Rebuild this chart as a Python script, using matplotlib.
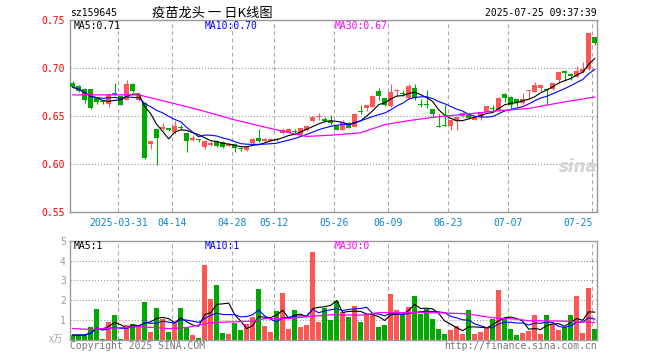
import numpy as np
import pandas as pd
import matplotlib
matplotlib.use("Agg")
import matplotlib.pyplot as plt

W, H, DPI = 660, 360, 100
MONO = "DejaVu Sans Mono"
CJK = ["Noto Sans CJK SC", "DejaVu Sans"]

UP, DOWN = "#ff5555", "#00a800"
GRID = "#aaaaaa"

# ---- data (159645, daily, 2025-03-19 .. 2025-07-25) ----
holidays = ["2025-04-04", "2025-05-01", "2025-05-02", "2025-05-05", "2025-06-02"]
days = pd.bdate_range("2025-03-19", "2025-07-25")
days = days[~days.isin(pd.to_datetime(holidays))]

opens = [0.684, 0.681, 0.678, 0.678, 0.669, 0.665, 0.662, 0.674, 0.671, 0.667,
         0.683, 0.667, 0.664, 0.621, 0.636, 0.636, 0.637, 0.633, 0.639, 0.632,
         0.6255, 0.625, 0.618, 0.620, 0.624, 0.623, 0.619, 0.621, 0.616, 0.6145,
         0.622, 0.6275, 0.6236, 0.624, 0.6252, 0.632, 0.6325, 0.634, 0.630, 0.635,
         0.6453, 0.6493, 0.647, 0.6446, 0.6396, 0.6358, 0.643, 0.639, 0.655, 0.6585,
         0.6595, 0.6765, 0.6685, 0.660, 0.676, 0.6743, 0.6685, 0.679, 0.6623, 0.6616,
         0.6569, 0.6394, 0.640, 0.6401, 0.6443, 0.6497, 0.6511, 0.6463, 0.6487, 0.6545,
         0.6581, 0.6566, 0.6726, 0.6702, 0.6675, 0.6634, 0.6758, 0.675, 0.6795, 0.678,
         0.6785, 0.688, 0.6973, 0.6942, 0.6908, 0.6955, 0.699, 0.7325]
highs = [0.686, 0.682, 0.679, 0.678, 0.670, 0.666, 0.674, 0.684, 0.672, 0.688,
         0.684, 0.674, 0.665, 0.624, 0.636, 0.643, 0.638, 0.645, 0.641, 0.632,
         0.630, 0.6265, 0.625, 0.624, 0.625, 0.624, 0.622, 0.622, 0.618, 0.619,
         0.627, 0.636, 0.627, 0.627, 0.627, 0.637, 0.637, 0.6365, 0.638, 0.640,
         0.650, 0.6528, 0.6485, 0.651, 0.640, 0.6459, 0.644, 0.653, 0.661, 0.6617,
         0.6705, 0.6795, 0.669, 0.6829, 0.6785, 0.6767, 0.683, 0.683, 0.6672, 0.6774,
         0.6575, 0.6518, 0.6614, 0.6462, 0.649, 0.6538, 0.6515, 0.649, 0.654, 0.6602,
         0.6614, 0.6702, 0.6736, 0.6705, 0.6678, 0.6743, 0.6771, 0.6853, 0.6822, 0.6795,
         0.6846, 0.6955, 0.6975, 0.6945, 0.7024, 0.7058, 0.7368, 0.7328]
lows = [0.679, 0.675, 0.664, 0.657, 0.663, 0.663, 0.659, 0.671, 0.661, 0.667,
        0.675, 0.666, 0.605, 0.616, 0.599, 0.635, 0.634, 0.631, 0.635, 0.613,
        0.624, 0.623, 0.616, 0.619, 0.618, 0.617, 0.619, 0.613, 0.614, 0.614,
        0.621, 0.623, 0.623, 0.6235, 0.624, 0.631, 0.632, 0.631, 0.629, 0.634,
        0.6436, 0.646, 0.6436, 0.641, 0.635, 0.635, 0.637, 0.6385, 0.652, 0.655,
        0.659, 0.667, 0.6603, 0.6595, 0.671, 0.6713, 0.6675, 0.6665, 0.659, 0.658,
        0.6477, 0.6381, 0.6391, 0.6357, 0.635, 0.6494, 0.647, 0.646, 0.6463, 0.654,
        0.6555, 0.6555, 0.6648, 0.6573, 0.660, 0.663, 0.6675, 0.6745, 0.6761, 0.6614,
        0.6768, 0.6846, 0.6863, 0.688, 0.6905, 0.6945, 0.6983, 0.724]
closes = [0.680, 0.676, 0.667, 0.658, 0.665, 0.6645, 0.672, 0.672, 0.661, 0.683,
          0.676, 0.673, 0.606, 0.624, 0.627, 0.639, 0.635, 0.640, 0.637, 0.624,
          0.627, 0.6247, 0.624, 0.622, 0.619, 0.618, 0.621, 0.617, 0.6155, 0.618,
          0.626, 0.624, 0.6264, 0.6262, 0.6248, 0.635, 0.636, 0.633, 0.6377, 0.6393,
          0.6492, 0.6498, 0.6446, 0.6425, 0.6358, 0.644, 0.638, 0.6525, 0.6545, 0.6615,
          0.6704, 0.6705, 0.6616, 0.6747, 0.6765, 0.6729, 0.6815, 0.6685, 0.6618, 0.6612,
          0.6521, 0.639, 0.6396, 0.6459, 0.6487, 0.6531, 0.6477, 0.6487, 0.6538, 0.660,
          0.6577, 0.6685, 0.6685, 0.6614, 0.6634, 0.6675, 0.6763, 0.6819, 0.6819, 0.6776,
          0.6846, 0.6955, 0.6949, 0.6921, 0.6966, 0.699, 0.7366, 0.7257]
# volume, 10k lots
volumes = [0.25, 0.25, 0.25, 0.63, 1.58, 0.05, 0.92, 1.25, 0.05, 0.75,
           0.83, 0.7, 1.9, 0.4, 1.63, 1.05, 0.4, 0.87, 1.63, 0.62,
           0.25, 0.1, 3.8, 2.08, 2.75, 0.37, 0.3, 0.87, 0.5, 0.8,
           1.17, 2.55, 0.7, 0.42, 1.45, 2.37, 0.55, 1.5, 0.65, 0.75,
           4.42, 0.92, 1.63, 1.0, 1.97, 1.42, 1.17, 1.7, 0.92, 1.33,
           1.25, 0.67, 0.75, 2.32, 1.5, 1.25, 1.67, 2.22, 1.3, 1.58,
           1.05, 0.55, 0.3, 0.5, 0.7, 0.3, 1.5, 0.3, 0.4, 0.58,
           1.05, 2.5, 1.08, 0.55, 0.25, 0.37, 0.47, 1.25, 0.3, 1.25,
           0.8, 0.5, 0.63, 1.25, 2.22, 0.37, 2.62, 0.55]
ma30_idx = [0, 11, 16, 21, 27, 33, 39, 43, 48, 52, 56, 60, 64, 71, 76, 82, 87]
ma30_val = [0.672, 0.672, 0.6644, 0.6565, 0.646, 0.637, 0.6287, 0.630, 0.6325, 0.641,
            0.6452, 0.6486, 0.651, 0.6554, 0.6579, 0.6647, 0.6698]
vma30_idx = [0, 3, 5, 8, 11, 14, 16, 19, 21, 23, 27, 30, 32, 36, 39, 43, 48, 51,
             58, 61, 65, 66, 70, 74, 76, 82, 87]
vma30_val = [0.58, 0.53, 0.58, 0.62, 0.67, 0.62, 0.57, 0.63, 0.75, 0.87, 0.92, 0.95,
             1.08, 1.08, 1.17, 1.27, 1.25, 1.38, 1.38, 1.37, 1.33, 1.3, 1.12, 1.05,
             0.97, 0.95, 0.88]

tick_dates = ["2025-03-31", "2025-04-14", "2025-04-28", "2025-05-12", "2025-05-26",
              "2025-06-09", "2025-06-23", "2025-07-07", "2025-07-25"]
price_ticks = [0.55, 0.60, 0.65, 0.70, 0.75]
vol_ticks = [1, 2, 3, 4, 5]

df = pd.DataFrame({"open": opens, "high": highs, "low": lows, "close": closes,
                   "vol": volumes}, index=days)
df["ma5"] = df["close"].rolling(5, min_periods=1).mean()
df["ma10"] = df["close"].rolling(10, min_periods=1).mean()
df["vma5"] = df["vol"].rolling(5, min_periods=1).mean()
df["vma10"] = df["vol"].rolling(10, min_periods=1).mean()
x = np.arange(len(df))
up = df["close"] >= df["open"]
colors = np.where(up, UP, DOWN)

plt.rcParams["lines.scale_dashes"] = False


def fx(px):
    return px / W


def fy(py):
    return 1 - py / H


fig = plt.figure(figsize=(W / DPI, H / DPI), dpi=DPI, facecolor="white")
ax = fig.add_axes([fx(70), fy(212), fx(527), 192 / H])
vax = fig.add_axes([fx(70), fy(340), fx(527), 99.3 / H])

tick_pos = [list(df.index).index(pd.Timestamp(d)) - 0.4 for d in tick_dates]

for a in (ax, vax):
    a.set_xlim(-0.45, 87.38)
    for s in a.spines.values():
        s.set_color("#999999")
        s.set_linewidth(1.0)
    for p in tick_pos:
        a.axvline(p, color=GRID, lw=0.8, ls=(0, (2.9, 2.2)), zorder=0)
    a.tick_params(length=0)

# ---- candles ----
ax.set_ylim(0.55, 0.75)
for yv in price_ticks[1:-1]:
    ax.axhline(yv, color="#999999", lw=0.8, ls=(0, (0.8, 1.4)), zorder=0)
ax.vlines(x, df["low"], df["high"], colors=colors, lw=0.8, zorder=2)
body = np.maximum((df["close"] - df["open"]).abs(), 0.0009)
ax.bar(x, body, bottom=np.minimum(df["open"], df["close"]), width=0.78,
       color=colors, lw=0, zorder=3)
ax.plot(x, df["ma5"], color="black", lw=0.8, zorder=4)
ax.plot(x, df["ma10"], color="#0000ff", lw=0.8, zorder=4)
ax.plot(ma30_idx, ma30_val, color="#ff00ff", lw=0.9, zorder=4)

ax.set_yticks(price_ticks)
ax.set_yticklabels([f"{v:.2f}" for v in price_ticks], color="red",
                   fontfamily=MONO, fontsize=7)
ax.tick_params(axis="y", pad=3.6)
ax.set_xticks(tick_pos)
labels = ["2025-03-31"] + [d[5:] for d in tick_dates[1:]]
ax.set_xticklabels(labels, color="#0a84d0", fontfamily=MONO, fontsize=7)
ax.tick_params(axis="x", pad=4)
ax.get_xticklabels()[-1].set_horizontalalignment("right")

# ---- volume ----
vax.set_ylim(0, 5)
for yv in vol_ticks[:-1]:
    vax.axhline(yv, color="#999999", lw=0.8, ls=(0, (0.8, 1.4)), zorder=0)
vax.bar(x, df["vol"], width=0.78, color=colors, lw=0, zorder=2)
vax.plot(x, df["vma5"], color="black", lw=0.8, zorder=3)
vax.plot(x, df["vma10"], color="#0000ff", lw=0.8, zorder=3)
vax.plot(vma30_idx, vma30_val, color="#ff00ff", lw=0.9, zorder=3)
vax.set_xticks([])
vax.set_yticks(vol_ticks)
vax.set_yticklabels([str(v) for v in vol_ticks], color="#999999",
                    fontfamily=MONO, fontsize=7)
vax.tick_params(axis="y", pad=3)

# ---- texts ----
fig.text(fx(70), fy(13), "sz159645", fontfamily=MONO, fontsize=7, va="center")
fig.text(fx(212), fy(13), "疫苗龙头 一 日K线图", family=CJK, fontsize=9.5,
         ha="center", va="center")
fig.text(fx(597), fy(13), "2025-07-25 09:37:39", fontfamily=MONO, fontsize=7,
         ha="right", va="center")

for ypx, vals in ((26, ("MA5:0.71", "MA10:0.70", "MA30:0.67")),
                  (246, ("MA5:1", "MA10:1", "MA30:0"))):
    for xpx, txt, col in zip((74, 205, 334.7), vals, ("black", "#0000ff", "#ff00ff")):
        fig.text(fx(xpx), fy(ypx), txt, color=col, fontfamily=MONO, fontsize=7,
                 va="center")

fig.text(fx(63), fy(339), "x万", family=CJK, fontsize=7, color="#aaaaaa",
         ha="right", va="center")
fig.text(fx(70), fy(346), "Copyright 2025 SINA.COM", fontfamily=MONO, fontsize=7,
         color="#777777", va="center")
fig.text(fx(597), fy(346), "http://finance.sina.com.cn", fontfamily=MONO,
         fontsize=7, color="#777777", ha="right", va="center")
fig.text(fx(578), fy(167), "sina", fontsize=12, style="italic", weight="bold",
         color="#d4d4d4", ha="center", va="center")

fig.savefig("out.png", dpi=DPI, facecolor="white")
